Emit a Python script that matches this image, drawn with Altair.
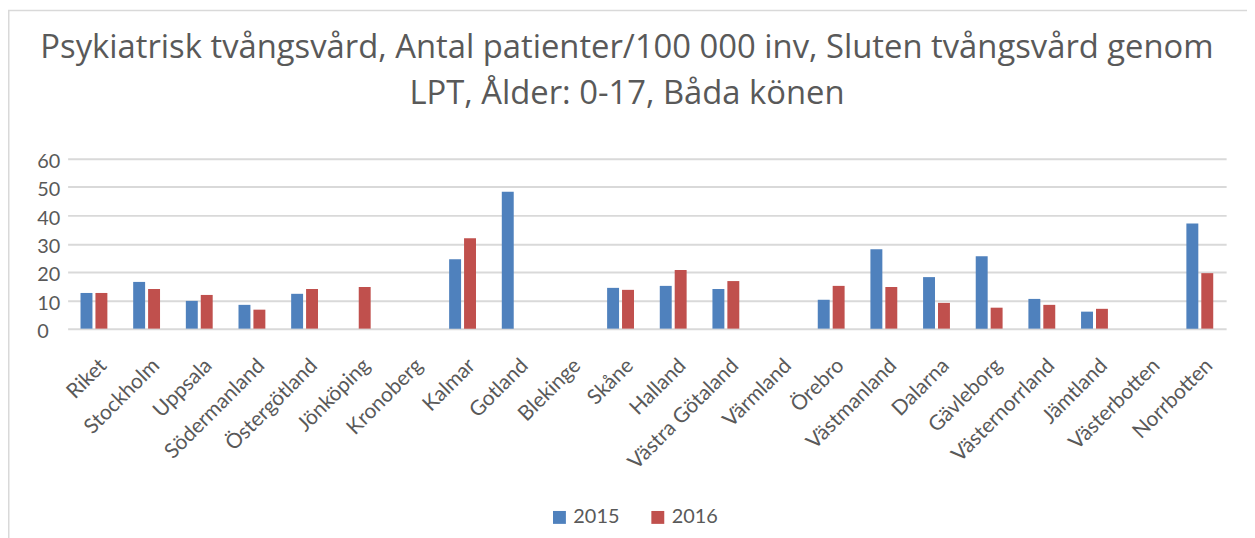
import altair as alt
import pandas as pd

regions = ["Riket", "Stockholm", "Uppsala", "Södermanland", "Östergötland", "Jönköping",
           "Kronoberg", "Kalmar", "Gotland", "Blekinge", "Skåne", "Halland",
           "Västra Götaland", "Värmland", "Örebro", "Västmanland", "Dalarna",
           "Gävleborg", "Västernorrland", "Jämtland", "Västerbotten", "Norrbotten"]
v2015 = [12.6, 16.5, 9.8, 8.4, 12.3, None, None, 24.5, 48.3, None, 14.4, 15.1,
         14.0, None, 10.2, 28.0, 18.2, 25.6, 10.5, 6.0, None, 37.1]
v2016 = [12.6, 14.0, 11.9, 6.7, 14.0, 14.7, None, 31.9, None, None, 13.7, 20.7,
         16.8, None, 15.1, 14.7, 9.1, 7.4, 8.4, 7.0, None, 19.6]
years = ["2015", "2016"]
colors = ["#4F81BD", "#C0504D"]
title_lines = ["Psykiatrisk tvångsvård, Antal patienter/100 000 inv, Sluten tvångsvård genom",
               "LPT, Ålder: 0-17, Båda könen"]

rows = []
for r, a, b in zip(regions, v2015, v2016):
    rows.append({"region": r, "year": years[0], "value": a})
    rows.append({"region": r, "year": years[1], "value": b})
df = pd.DataFrame(rows)

FONT = "Lato"
TXT = "#595959"
W, H = 1166, 171
PL, PT, PR, PB = 60, 150, 21, 209

bars = alt.Chart(df).mark_bar().encode(
    x=alt.X("region:N", sort=regions, title=None,
            scale=alt.Scale(paddingInner=0.49, paddingOuter=0.245),
            axis=alt.Axis(labelAngle=-45, labelFont=FONT, labelFontSize=21,
                          labelColor=TXT, ticks=False, domain=False,
                          labelPadding=26, labelOffset=2, labelOverlap=False, grid=False)),
    xOffset=alt.XOffset("year:N", scale=alt.Scale(domain=years, paddingInner=0.2, paddingOuter=0)),
    y=alt.Y("value:Q", title=None,
            scale=alt.Scale(domain=[0, 60], nice=False),
            axis=alt.Axis(values=[0, 10, 20, 30, 40, 50, 60], labelFont=FONT,
                          labelFontSize=20, labelColor=TXT, labelAlign="left",
                          labelPadding=31, labelOffset=3, ticks=False, domain=False,
                          gridColor="#D9D9D9", gridWidth=2)),
    color=alt.Color("year:N", scale=alt.Scale(domain=years, range=colors),
                    legend=alt.Legend(title=None, orient="none", legendX=485, legendY=351,
                                      direction="horizontal", symbolType="square",
                                      symbolSize=169, symbolStrokeWidth=0,
                                      labelFont=FONT, labelFontSize=20, labelColor=TXT,
                                      labelOffset=4, columnPadding=28)),
)

frame_df = pd.DataFrame({"k": [0]})
frame = alt.Chart(frame_df).mark_rect(fill=None, stroke="#D9D9D9", strokeWidth=1.5, clip=False).encode(
    x=alt.value(-PL + 0.75), x2=alt.value(W + PR + 40),
    y=alt.value(-PT + 0.75), y2=alt.value(H + PB + 40),
)

chart = alt.layer(frame, bars).properties(
    width=W, height=H,
    padding={"left": PL, "top": PT, "right": PR, "bottom": PB},
    autosize=alt.AutoSizeParams(type="none"),
    title=alt.TitleParams(title_lines, font="Open Sans", fontSize=33, fontWeight="normal",
                          color=TXT, anchor="middle", dx=-20, offset=-102, lineHeight=46),
).configure_view(stroke=None)

chart.save("out.html", embed_options={"renderer": "svg", "actions": False})
